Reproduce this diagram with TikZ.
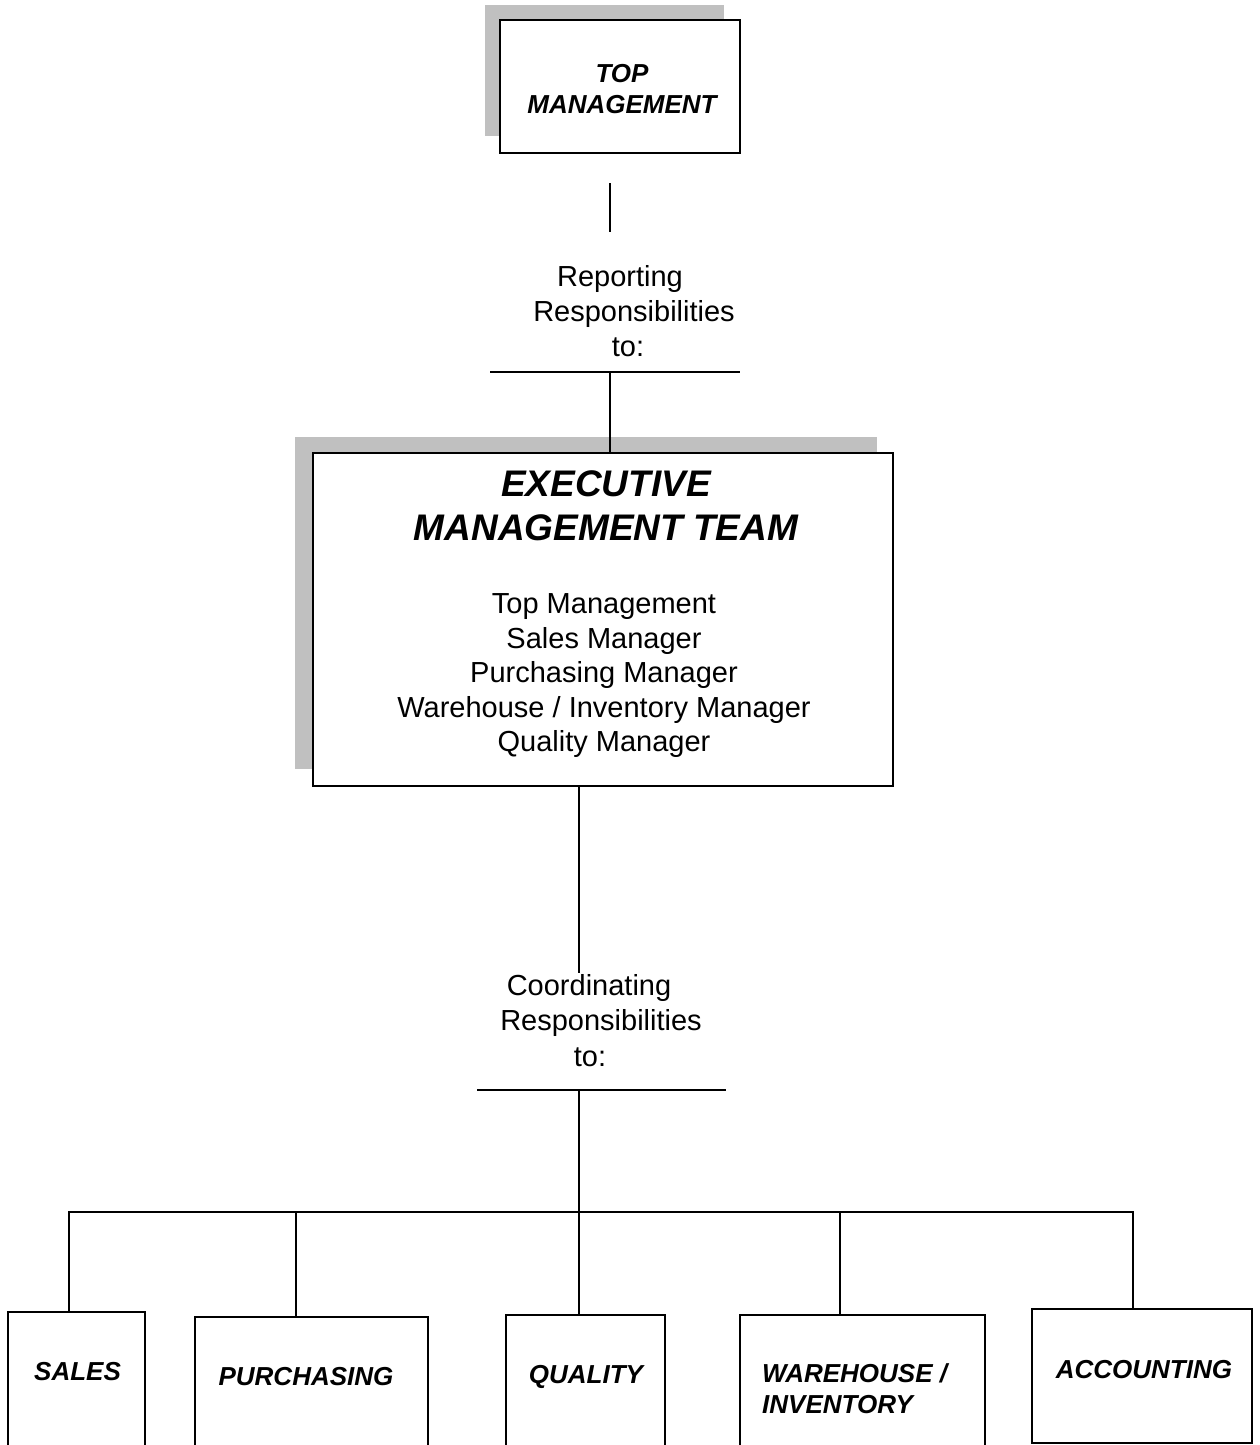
\documentclass[tikz,border=0pt]{standalone}
\usepackage{fontspec}
\setmainfont{Liberation Sans}
\definecolor{shadowgray}{HTML}{C0C0C0}
\begin{document}
\begin{tikzpicture}[x=1pt,y=-1pt,
  box/.style={draw=black,line width=2pt,fill=white,inner sep=0pt,outer sep=0pt,anchor=north west},
  shadowbox/.style={fill=shadowgray,draw=none,inner sep=0pt,outer sep=0pt,anchor=north west},
  conn/.style={line width=2pt},
  lbl/.style={font=\fontsize{29}{34.5}\selectfont,inner sep=0pt},
  unitlbl/.style={font=\fontsize{26}{31}\selectfont\bfseries\itshape,inner sep=0pt},
  titlelbl/.style={font=\fontsize{37}{44}\selectfont\bfseries\itshape,inner sep=0pt,align=center}
]
\useasboundingbox (0,0) rectangle (1260,1445);
\clip (0,0) rectangle (1260,1445);
\fill[white] (0,0) rectangle (1260,1445);

% top management
\node[shadowbox,minimum width=239pt,minimum height=131pt] (topsh) at (485,5) {};
\node[box,minimum width=240pt,minimum height=133pt] (top) at (500,20) {};
\node[unitlbl,align=center] (topT) at (622,89) {TOP\\MANAGEMENT};

% reporting
\coordinate (r1) at (610,183);
\coordinate (r2) at (610,232);
\draw[conn] (r1) -- (r2);
\node[lbl,anchor=base] (rep1) at (620,286) {Reporting};
\node[lbl,anchor=base] (rep2) at (634,321) {Responsibilities};
\node[lbl,anchor=base] (rep3) at (628,356) {to:};
\coordinate (rbL) at (490,372);
\coordinate (rbR) at (740,372);
\coordinate (rbM) at (610,372);
\draw[conn] (rbL) -- (rbR);

% executive
\node[shadowbox,minimum width=582pt,minimum height=332pt] (execsh) at (295,437) {};
\node[box,minimum width=580pt,minimum height=333pt] (exec) at (313,453) {};
\draw[conn] (rbM) -- (rbM |- exec.north);
\node[titlelbl] (execT) at (606,506) {EXECUTIVE\\MANAGEMENT TEAM};
\node[lbl,align=center] (execL) at (604,676) {Top Management\\Sales Manager\\Purchasing Manager\\Warehouse / Inventory Manager\\Quality Manager};

% coordinating
\coordinate (cTop) at (579,973);
\draw[conn] (cTop |- exec.south) -- (cTop);
\node[lbl,anchor=base] (co1) at (589,995) {Coordinating};
\node[lbl,anchor=base] (co2) at (601,1030) {Responsibilities};
\node[lbl,anchor=base] (co3) at (590,1066) {to:};
\coordinate (cbL) at (477,1090);
\coordinate (cbR) at (726,1090);
\coordinate (cbM) at (579,1090);
\draw[conn] (cbL) -- (cbR);

% units
\node[box,minimum width=137pt,minimum height=150pt] (sales) at (8,1312) {};
\node[box,minimum width=233pt,minimum height=145pt] (purch) at (195,1317) {};
\node[box,minimum width=159pt,minimum height=147pt] (quality) at (506,1315) {};
\node[box,minimum width=245pt,minimum height=147pt] (ware) at (740,1315) {};
\node[box,minimum width=220pt,minimum height=134pt] (acct) at (1032,1309) {};

\node[unitlbl,anchor=base] (salesT) at (77.5,1380) {SALES};
\node[unitlbl,anchor=base] (purchT) at (306,1385) {PURCHASING};
\node[unitlbl,anchor=base] (qualityT) at (586,1383) {QUALITY};
\node[unitlbl,align=left,anchor=west] (wareT) at (762,1389) {WAREHOUSE /\\INVENTORY};
\node[unitlbl,anchor=base] (acctT) at (1144,1378) {ACCOUNTING};

% bus
\coordinate (busL) at (69,1212);
\coordinate (busR) at (1133,1212);
\coordinate (busP) at (296,1212);
\coordinate (busW) at (840,1212);
\draw[conn] (cbM) -- (cbM |- quality.north);
\draw[conn] (busL |- sales.north) -- (busL) -- (busR) -- (busR |- acct.north);
\draw[conn] (busP) -- (busP |- purch.north);
\draw[conn] (busW) -- (busW |- ware.north);
\end{tikzpicture}
\end{document}
